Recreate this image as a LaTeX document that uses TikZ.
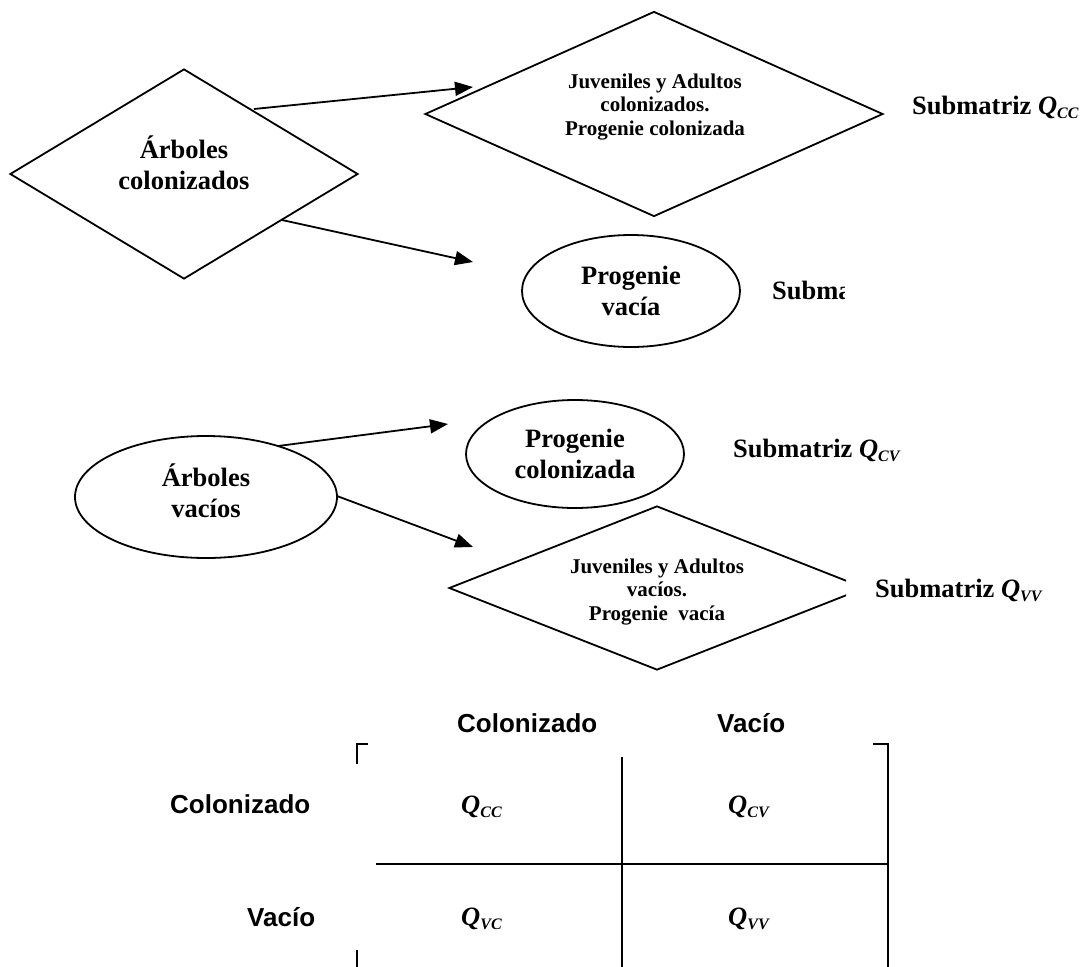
\documentclass[tikz,border=0pt]{standalone}
\usepackage{fontspec}
\setmainfont{Liberation Serif}
\newfontfamily\arialfam{Liberation Sans}
\usetikzlibrary{shapes.geometric,arrows.meta}
\newcommand{\bigtxt}{\fontsize{26.5}{30.5}\selectfont\bfseries}
\newcommand{\smalltxt}{\fontsize{21}{23.5}\selectfont\bfseries}
\newcommand{\headtxt}{\arialfam\fontsize{26}{30}\selectfont\bfseries}
\newcommand{\qsubm}[1]{{\bfseries\itshape Q\raisebox{-4pt}{\fontsize{16}{16}\selectfont\bfseries\itshape #1}}}
\begin{document}
\begin{tikzpicture}[x=1pt,y=-1pt,
  shapeline/.style={draw, line width=1.8pt},
  dia/.style={shapeline, diamond, inner sep=0pt},
  ell/.style={shapeline, ellipse, inner sep=0pt, align=center, font=\bigtxt},
  arr/.style={line width=1.8pt, -{Triangle[length=18pt,width=14pt]}},
  bigt/.style={align=center, font=\bigtxt, inner sep=0pt},
  smallt/.style={align=center, font=\smalltxt, inner sep=0pt},
  subm/.style={anchor=base west, font=\bigtxt, inner sep=0pt},
  head/.style={anchor=base west, font=\headtxt, inner sep=0pt},
  qcell/.style={anchor=base west, font=\fontsize{26.5}{30}\selectfont, inner sep=0pt},
  gridline/.style={line width=1.8pt}
]
\useasboundingbox (0,0) rectangle (1085,967);

% ---- top group ----
\node[dia, minimum width=348pt, minimum height=210pt] (d1) at (184,174) {};
\node[bigt] (t1) at (184,163) {Árboles\\colonizados};

\node[dia, minimum width=458pt, minimum height=205pt] (d2) at (654,114) {};
\node[smallt] (t2) at (655,107) {Juveniles y Adultos\\colonizados.\\Progenie colonizada};
\node[subm] (s1) at (912,114) {Submatriz \qsubm{CC}};

\node[ell, minimum width=218pt, minimum height=112pt] (e1) at (631,291) {Progenie\\vacía};
\begin{scope}
\clip (0,0) rectangle (844,967);
\node[subm] (s2) at (772,299) {Submatriz};
\end{scope}

\coordinate (a1s) at (254,109);
\coordinate (a1e) at (473,87);
\coordinate (a2s) at (282,220);
\coordinate (a2e) at (473,262);
\draw[arr] (a1s) -- (a1e);
\draw[arr] (a2s) -- (a2e);

% ---- middle group ----
\node[ell, minimum width=262pt, minimum height=122pt] (e2) at (206,497) {};
\node[bigt] (t4) at (206,491) {Árboles\\vacíos};
\node[ell, minimum width=218pt, minimum height=108pt] (e3) at (575,454) {Progenie\\colonizada};
\node[subm] (s3) at (733,457) {Submatriz \qsubm{CV}};

\begin{scope}
\clip (0,0) rectangle (846,967);
\node[dia, minimum width=416pt, minimum height=164pt] (d3) at (657,588) {};
\end{scope}
\node[smallt] (t3) at (657,592) {Juveniles y Adultos\\vacíos.\\Progenie\ \ vacía};
\node[subm] (s4) at (875,597) {Submatriz \qsubm{VV}};

\coordinate (a3s) at (278,446);
\coordinate (a3e) at (448,424);
\coordinate (a4s) at (337,496);
\coordinate (a4e) at (473,547);
\draw[arr] (a3s) -- (a3e);
\draw[arr] (a4s) -- (a4e);

% ---- matrix ----
\node[head] (h1) at (457,732) {Colonizado};
\node[head] (h2) at (717,732) {Vacío};
\node[head] (r1) at (170,813) {Colonizado};
\node[head] (r2) at (247,926) {Vacío};

\node[qcell] (q11) at (461,813) {\qsubm{CC}};
\node[qcell] (q12) at (728,813) {\qsubm{CV}};
\node[qcell] (q21) at (461,925) {\qsubm{VC}};
\node[qcell] (q22) at (728,925) {\qsubm{VV}};

\draw[gridline] (368,744) -- (357,744) -- (357,764);
\draw[gridline] (357,950) -- (357,967);
\draw[gridline] (873,744) -- (888,744) -- (888,967);
\draw[gridline] (622,757) -- (622,967);
\draw[gridline] (376,864) -- (888,864);
\end{tikzpicture}
\end{document}
